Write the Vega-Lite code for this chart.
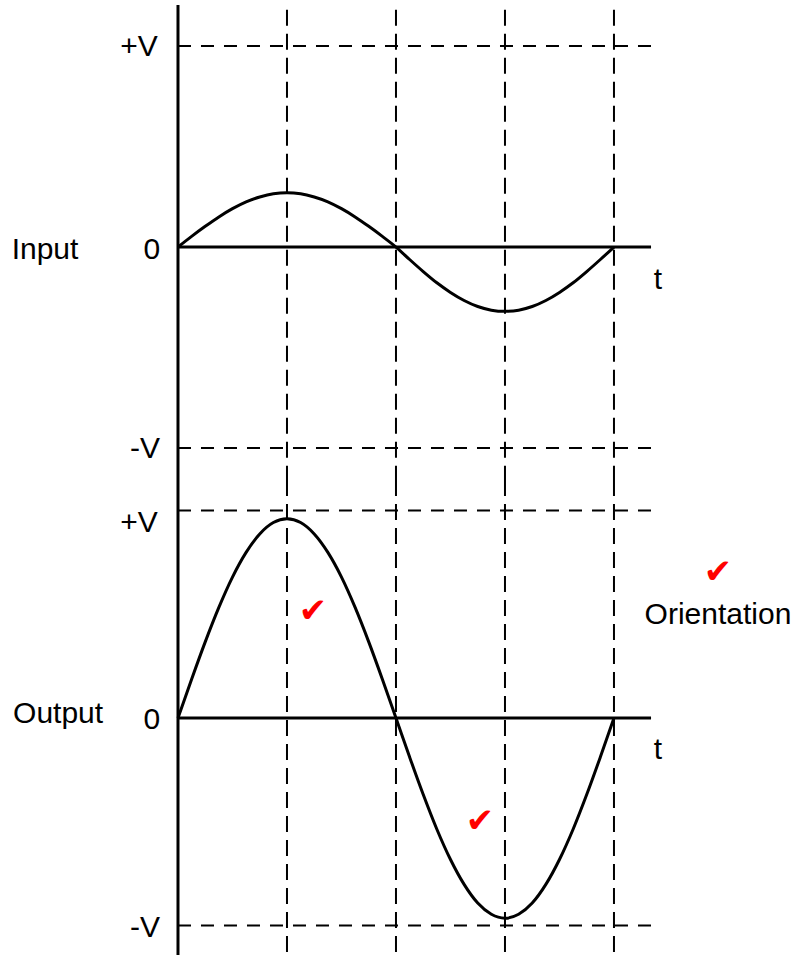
{
  "$schema": "https://vega.github.io/schema/vega-lite/v6.json",
  "padding": 0,
  "spacing": 0,
  "bounds": "flush",
  "background": "white",
  "config": {"view": {"stroke": null}, "text": {"font": "Liberation Sans"}},
  "datasets": {
    "curve": [
      {"p":"in","t":0,"v":0},{"p":"in","t":0.125,"v":0.053},{"p":"in","t":0.25,"v":0.103},{"p":"in","t":0.375,"v":0.15},{"p":"in","t":0.5,"v":0.191},{"p":"in","t":0.625,"v":0.225},{"p":"in","t":0.75,"v":0.249},{"p":"in","t":0.875,"v":0.265},{"p":"in","t":1,"v":0.27},
      {"p":"in","t":1.125,"v":0.265},{"p":"in","t":1.25,"v":0.249},{"p":"in","t":1.375,"v":0.225},{"p":"in","t":1.5,"v":0.191},{"p":"in","t":1.625,"v":0.15},{"p":"in","t":1.75,"v":0.103},{"p":"in","t":1.875,"v":0.053},{"p":"in","t":2,"v":0},
      {"p":"in","t":2.125,"v":-0.062},{"p":"in","t":2.25,"v":-0.122},{"p":"in","t":2.375,"v":-0.178},{"p":"in","t":2.5,"v":-0.226},{"p":"in","t":2.625,"v":-0.266},{"p":"in","t":2.75,"v":-0.296},{"p":"in","t":2.875,"v":-0.314},{"p":"in","t":3,"v":-0.32},
      {"p":"in","t":3.125,"v":-0.314},{"p":"in","t":3.25,"v":-0.296},{"p":"in","t":3.375,"v":-0.266},{"p":"in","t":3.5,"v":-0.226},{"p":"in","t":3.625,"v":-0.178},{"p":"in","t":3.75,"v":-0.122},{"p":"in","t":3.875,"v":-0.062},{"p":"in","t":4,"v":0},
      {"p":"out","t":0,"v":0},{"p":"out","t":0.125,"v":0.187},{"p":"out","t":0.25,"v":0.367},{"p":"out","t":0.375,"v":0.533},{"p":"out","t":0.5,"v":0.679},{"p":"out","t":0.625,"v":0.798},{"p":"out","t":0.75,"v":0.887},{"p":"out","t":0.875,"v":0.942},{"p":"out","t":1,"v":0.96},
      {"p":"out","t":1.125,"v":0.942},{"p":"out","t":1.25,"v":0.887},{"p":"out","t":1.375,"v":0.798},{"p":"out","t":1.5,"v":0.679},{"p":"out","t":1.625,"v":0.533},{"p":"out","t":1.75,"v":0.367},{"p":"out","t":1.875,"v":0.187},{"p":"out","t":2,"v":0},
      {"p":"out","t":2.125,"v":-0.188},{"p":"out","t":2.25,"v":-0.369},{"p":"out","t":2.375,"v":-0.536},{"p":"out","t":2.5,"v":-0.682},{"p":"out","t":2.625,"v":-0.802},{"p":"out","t":2.75,"v":-0.892},{"p":"out","t":2.875,"v":-0.946},{"p":"out","t":3,"v":-0.965},
      {"p":"out","t":3.125,"v":-0.946},{"p":"out","t":3.25,"v":-0.892},{"p":"out","t":3.375,"v":-0.802},{"p":"out","t":3.5,"v":-0.682},{"p":"out","t":3.625,"v":-0.536},{"p":"out","t":3.75,"v":-0.369},{"p":"out","t":3.875,"v":-0.188},{"p":"out","t":4,"v":0}
    ],
    "hl": [
      {"p":"in","y":1,"x1":0,"x2":4.376},{"p":"in","y":-1,"x1":0,"x2":4.376},
      {"p":"out","y":1,"x1":0,"x2":4.376},{"p":"out","y":-1,"x1":0,"x2":4.376}
    ],
    "zl": [
      {"p":"in","y":0,"x1":0,"x2":4.34},{"p":"out","y":0,"x1":0,"x2":4.34}
    ],
    "vl": [
      {"p":"in","x":1,"y1":1.18,"y2":-1.159},{"p":"in","x":2,"y1":1.18,"y2":-1.159},{"p":"in","x":3,"y1":1.18,"y2":-1.159},{"p":"in","x":4,"y1":1.18,"y2":-1.159},
      {"p":"out","x":1,"y1":1.147,"y2":-1.147},{"p":"out","x":2,"y1":1.147,"y2":-1.147},{"p":"out","x":3,"y1":1.147,"y2":-1.147},{"p":"out","x":4,"y1":1.147,"y2":-1.147}
    ],
    "ax": [
      {"p":"in","x":0,"y1":1.204,"y2":-1.159},{"p":"out","x":0,"y1":1.147,"y2":-1.142}
    ],
    "lab": [
      {"p":"in","x":-0.358,"y":0.995,"text":"+V"},
      {"p":"in","x":-1.22,"y":-0.015,"text":"Input"},
      {"p":"in","x":-0.239,"y":-0.015,"text":"0"},
      {"p":"in","x":4.404,"y":-0.164,"text":"t"},
      {"p":"in","x":-0.303,"y":-1.005,"text":"-V"},
      {"p":"out","x":-0.358,"y":0.94,"text":"+V"},
      {"p":"out","x":-1.1,"y":0.019,"text":"Output"},
      {"p":"out","x":-0.239,"y":-0.01,"text":"0"},
      {"p":"out","x":4.404,"y":-0.154,"text":"t"},
      {"p":"out","x":-0.303,"y":-1.012,"text":"-V"},
      {"p":"out","x":4.954,"y":0.496,"text":"Orientation"}
    ],
    "chk": [
      {"p":"out","x":1.239,"y":0.511,"text":"✔"},
      {"p":"out","x":2.771,"y":-0.501,"text":"✔"},
      {"p":"out","x":4.954,"y":0.699,"text":"✔"}
    ]
  },
  "vconcat": [
    {
      "width": 796,
      "height": 480,
      "layer": [
        {
          "data": {"name": "vl"},
          "transform": [{"filter": "datum.p === 'in'"}],
          "mark": {"type": "rule", "color": "black", "strokeWidth": 2, "strokeDash": [16, 8]},
          "encoding": {
            "x": {"field": "x", "type": "quantitative", "scale": {"domain": [-1.633, 5.67], "nice": false, "zero": false}, "axis": null},
            "y": {"field": "y1", "type": "quantitative", "scale": {"domain": [-1.159, 1.229], "nice": false, "zero": false}, "axis": null},
            "y2": {"field": "y2"}
          }
        },
        {
          "data": {"name": "hl"},
          "transform": [{"filter": "datum.p === 'in'"}],
          "mark": {"type": "rule", "color": "black", "strokeWidth": 2, "strokeDash": [13, 10]},
          "encoding": {
            "x": {"field": "x1", "type": "quantitative"},
            "x2": {"field": "x2"},
            "y": {"field": "y", "type": "quantitative"}
          }
        },
        {
          "data": {"name": "zl"},
          "transform": [{"filter": "datum.p === 'in'"}],
          "mark": {"type": "rule", "color": "black", "strokeWidth": 3},
          "encoding": {
            "x": {"field": "x1", "type": "quantitative"},
            "x2": {"field": "x2"},
            "y": {"field": "y", "type": "quantitative"}
          }
        },
        {
          "data": {"name": "ax"},
          "transform": [{"filter": "datum.p === 'in'"}],
          "mark": {"type": "rule", "color": "black", "strokeWidth": 3},
          "encoding": {
            "x": {"field": "x", "type": "quantitative"},
            "y": {"field": "y1", "type": "quantitative"},
            "y2": {"field": "y2"}
          }
        },
        {
          "data": {"name": "curve"},
          "transform": [{"filter": "datum.p === 'in'"}],
          "mark": {"type": "line", "color": "black", "strokeWidth": 3, "interpolate": "monotone"},
          "encoding": {
            "x": {"field": "t", "type": "quantitative"},
            "y": {"field": "v", "type": "quantitative"}
          }
        },
        {
          "data": {"name": "lab"},
          "transform": [{"filter": "datum.p === 'in'"}],
          "mark": {"type": "text", "color": "black", "fontSize": 30, "font": "Liberation Sans", "align": "center", "baseline": "middle"},
          "encoding": {
            "x": {"field": "x", "type": "quantitative"},
            "y": {"field": "y", "type": "quantitative"},
            "text": {"field": "text"}
          }
        }
      ]
    },
    {
      "width": 796,
      "height": 476,
      "layer": [
        {
          "data": {"name": "vl"},
          "transform": [{"filter": "datum.p === 'out'"}],
          "mark": {"type": "rule", "color": "black", "strokeWidth": 2, "strokeDash": [16, 8]},
          "encoding": {
            "x": {"field": "x", "type": "quantitative", "scale": {"domain": [-1.633, 5.67], "nice": false, "zero": false}, "axis": null},
            "y": {"field": "y1", "type": "quantitative", "scale": {"domain": [-1.147, 1.147], "nice": false, "zero": false}, "axis": null},
            "y2": {"field": "y2"}
          }
        },
        {
          "data": {"name": "hl"},
          "transform": [{"filter": "datum.p === 'out'"}],
          "mark": {"type": "rule", "color": "black", "strokeWidth": 2, "strokeDash": [13, 10]},
          "encoding": {
            "x": {"field": "x1", "type": "quantitative"},
            "x2": {"field": "x2"},
            "y": {"field": "y", "type": "quantitative"}
          }
        },
        {
          "data": {"name": "zl"},
          "transform": [{"filter": "datum.p === 'out'"}],
          "mark": {"type": "rule", "color": "black", "strokeWidth": 3},
          "encoding": {
            "x": {"field": "x1", "type": "quantitative"},
            "x2": {"field": "x2"},
            "y": {"field": "y", "type": "quantitative"}
          }
        },
        {
          "data": {"name": "ax"},
          "transform": [{"filter": "datum.p === 'out'"}],
          "mark": {"type": "rule", "color": "black", "strokeWidth": 3},
          "encoding": {
            "x": {"field": "x", "type": "quantitative"},
            "y": {"field": "y1", "type": "quantitative"},
            "y2": {"field": "y2"}
          }
        },
        {
          "data": {"name": "curve"},
          "transform": [{"filter": "datum.p === 'out'"}],
          "mark": {"type": "line", "color": "black", "strokeWidth": 3, "interpolate": "monotone"},
          "encoding": {
            "x": {"field": "t", "type": "quantitative"},
            "y": {"field": "v", "type": "quantitative"}
          }
        },
        {
          "data": {"name": "lab"},
          "transform": [{"filter": "datum.p === 'out'"}],
          "mark": {"type": "text", "color": "black", "fontSize": 30, "font": "Liberation Sans", "align": "center", "baseline": "middle"},
          "encoding": {
            "x": {"field": "x", "type": "quantitative"},
            "y": {"field": "y", "type": "quantitative"},
            "text": {"field": "text"}
          }
        },
        {
          "data": {"name": "chk"},
          "transform": [{"filter": "datum.p === 'out'"}],
          "mark": {"type": "text", "color": "red", "fontSize": 34, "font": "DejaVu Sans", "align": "center", "baseline": "middle"},
          "encoding": {
            "x": {"field": "x", "type": "quantitative"},
            "y": {"field": "y", "type": "quantitative"},
            "text": {"field": "text"}
          }
        }
      ]
    }
  ],
  "resolve": {"scale": {"y": "independent"}}
}
